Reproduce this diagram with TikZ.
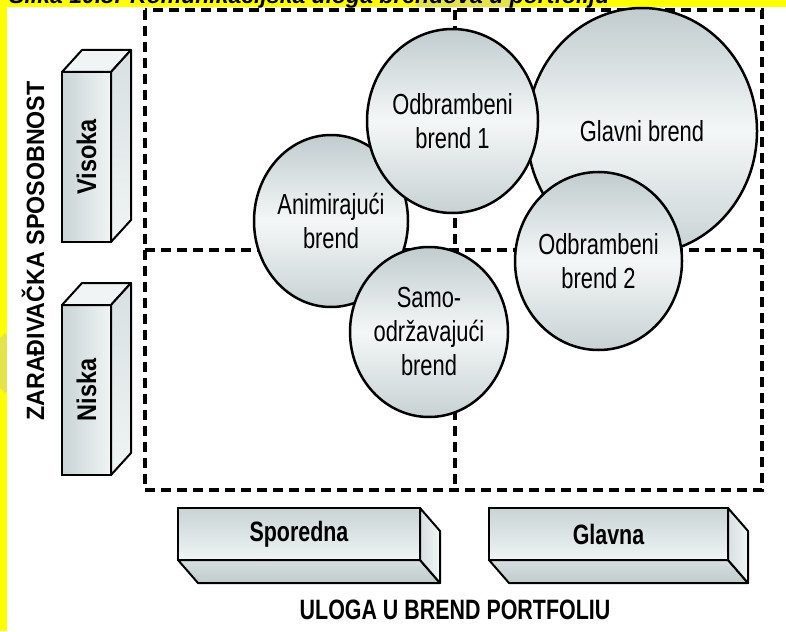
\documentclass[tikz,border=0pt]{standalone}
\usepackage{fontspec}
\usepackage{graphicx}
\usetikzlibrary{shapes.geometric,calc}
\setmainfont{Liberation Sans}
\newfontfamily\bubblefont[FakeStretch=0.755]{Liberation Sans}
\newfontfamily\tagfont[FakeStretch=0.765]{Liberation Sans}
\newfontfamily\sidefont[FakeStretch=0.87]{Liberation Sans}
\newfontfamily\axisfont[FakeStretch=0.93]{Liberation Sans}
\newfontfamily\capfont{Liberation Sans}

\definecolor{markyellow}{HTML}{FFFF00}
\definecolor{markshade}{HTML}{D9D66E}
\definecolor{bubtop}{HTML}{C1CCCE}
\definecolor{bubbottom}{HTML}{C8D2D3}
\definecolor{bublight}{HTML}{F4F7F7}
\definecolor{facetop}{HTML}{C9D4D5}
\definecolor{facelight}{HTML}{F0F4F4}
\definecolor{faceside}{HTML}{D8E0E1}
\definecolor{faceshadow}{HTML}{BFCACB}

\tikzset{
  gridline/.style={line width=3.1pt, dash pattern=on 10pt off 6pt},
  bubble/.style={ellipse, draw, line width=2.5pt, inner sep=-8pt, outer sep=0pt,
    top color=bubtop, bottom color=bubbottom, middle color=bublight,
    align=center, font=\bubblefont\fontsize{29}{34}\selectfont},
  vfront/.style={rectangle, draw, line width=2pt, inner sep=0pt, outer sep=0pt,
    left color=facetop, right color=facelight,
    minimum width=49, minimum height=170,
    font=\sidefont\bfseries\fontsize{27}{30}\selectfont},
  hfront/.style={rectangle, draw, line width=2pt, inner sep=0pt, outer sep=0pt,
    top color=facetop, bottom color=facelight,
    minimum height=52, font=\tagfont\bfseries\fontsize{28}{30}\selectfont},
  boxface/.style={draw, line width=2pt, line join=round},
  axislabel/.style={inner sep=0pt, font=\axisfont\bfseries\fontsize{25}{28}\selectfont},
  xaxislabel/.style={inner sep=0pt, font=\tagfont\bfseries\fontsize{28}{30}\selectfont},
}

\begin{document}
\begin{tikzpicture}[x=1pt, y=-1pt]
\useasboundingbox (0,0) rectangle (786,631);

% page, margin bands and caption line cut at the top edge
\begin{scope}
  \clip (0,0) rectangle (786,631);
  \fill[white] (0,0) rectangle (786,631);
  \fill[markyellow] (0,0) rectangle (786,7.5);
  \fill[markyellow] (0,0) rectangle (7,631);
  \begin{scope}
    \clip (0,0) rectangle (786,7.5) (0,0) rectangle (7,631);
    \fill[markshade, opacity=0.7] (465,-45) -- (515,5) -- (465,55) -- (415,5) -- cycle;
    \fill[markshade, opacity=0.7] (-25,363) -- (5,333) -- (35,363) -- (5,393) -- cycle;
  \end{scope}
  \node[anchor=base west, inner sep=0pt, font=\capfont\bfseries\itshape\fontsize{23}{26}\selectfont]
    (caption) at (9,3.5) {Slika 10.8: Komunikacijska uloga brendova u portfoliju};
\end{scope}

% quadrant grid
\coordinate (gNW) at (145,10);
\coordinate (gSE) at (762,490);
\coordinate (gN) at (455,10);
\coordinate (gS) at (455,490);
\coordinate (gW) at (145,250);
\coordinate (gE) at (762,250);
\draw[gridline] (gNW) rectangle (gSE);
\draw[gridline] (gN) -- (gS);
\draw[gridline] (gW) -- (gE);

% brand bubbles, back to front
\node[bubble, minimum width=230, minimum height=246] (glavni) at (642,131) {Glavni brend};
\node[bubble, minimum width=154, minimum height=172] (animir) at (331,221) {Animirajući\\brend};
\node[bubble, minimum width=171, minimum height=184] (odbr1) at (452.5,121) {Odbrambeni\\brend 1};
\node[bubble, minimum width=167, minimum height=178] (odbr2) at (598.5,261) {Odbrambeni\\brend 2};
\node[bubble, minimum width=158, minimum height=170] (samo) at (429,332) {Samo-\\održavajući\\brend};

% vertical axis blocks (depth goes up and to the right)
\node[vfront] (visoka) at (86.5,157) {\rotatebox{90}{Visoka}};
\filldraw[boxface, fill=facelight] (visoka.north west) -- ++(20,-22)
  -- ($(visoka.north east)+(20,-22)$) -- (visoka.north east) -- cycle;
\filldraw[boxface, top color=faceside, bottom color=facelight] (visoka.north east) -- ++(20,-22)
  -- ($(visoka.south east)+(20,-22)$) -- (visoka.south east) -- cycle;

\node[vfront] (niska) at (86.5,390) {\rotatebox{90}{Niska}};
\filldraw[boxface, fill=facelight] (niska.north west) -- ++(20,-22)
  -- ($(niska.north east)+(20,-22)$) -- (niska.north east) -- cycle;
\filldraw[boxface, top color=faceside, bottom color=facelight] (niska.north east) -- ++(20,-22)
  -- ($(niska.south east)+(20,-22)$) -- (niska.south east) -- cycle;

% horizontal axis blocks (depth goes down and to the right)
\node[hfront, minimum width=242] (sporedna) at (299,534) {Sporedna};
\filldraw[boxface, top color=faceside, bottom color=faceshadow] (sporedna.south west) -- ++(20,23)
  -- ($(sporedna.south east)+(20,23)$) -- (sporedna.south east) -- cycle;
\filldraw[boxface, left color=faceside, right color=facelight] (sporedna.north east) -- ++(20,23)
  -- ($(sporedna.south east)+(20,23)$) -- (sporedna.south east) -- cycle;

\node[hfront, minimum width=239] (glavna) at (608.5,534) {Glavna};
\filldraw[boxface, top color=faceside, bottom color=faceshadow] (glavna.south west) -- ++(20,23)
  -- ($(glavna.south east)+(20,23)$) -- (glavna.south east) -- cycle;
\filldraw[boxface, left color=faceside, right color=facelight] (glavna.north east) -- ++(20,23)
  -- ($(glavna.south east)+(20,23)$) -- (glavna.south east) -- cycle;

% axis titles
\node[xaxislabel] (xtitle) at (455,610) {ULOGA U BREND PORTFOLIU};
\node[axislabel, rotate=90] (ytitle) at (33,251) {ZARAĐIVAČKA SPOSOBNOST};
\end{tikzpicture}
\end{document}
